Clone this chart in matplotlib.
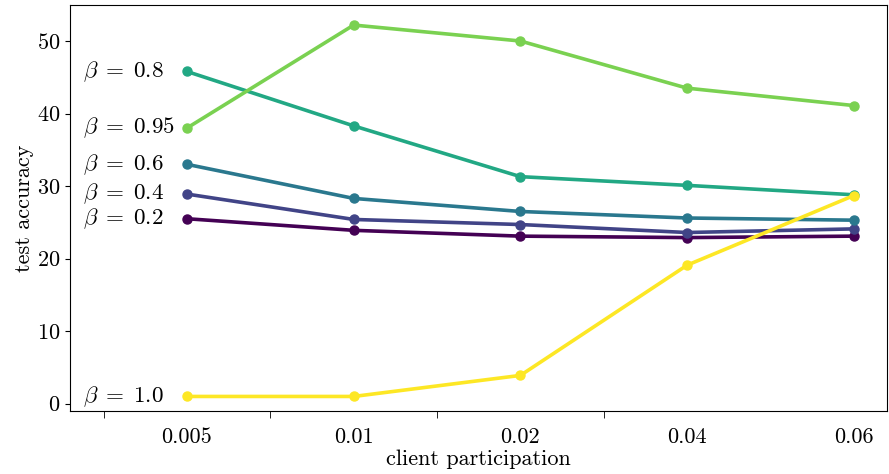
import matplotlib
matplotlib.use("Agg")
import matplotlib.pyplot as plt
import numpy as np

plt.rcParams['font.family'] = 'serif'
plt.rcParams['font.serif'] = ['cmr10']
plt.rcParams['mathtext.fontset'] = 'cm'
plt.rcParams['axes.formatter.use_mathtext'] = True

participation = ["0.005", "0.01", "0.02", "0.04", "0.06"]
betas = ["0.2", "0.4", "0.6", "0.8", "0.95", "1.0"]
acc_b02 = [25.5, 23.9, 23.1, 22.9, 23.1]
acc_b04 = [28.9, 25.4, 24.7, 23.6, 24.1]
acc_b06 = [33.0, 28.3, 26.5, 25.6, 25.3]
acc_b08 = [45.8, 38.3, 31.3, 30.1, 28.8]
acc_b095 = [38.0, 52.2, 50.0, 43.5, 41.1]
acc_b10 = [1.0, 1.0, 3.9, 19.1, 28.7]
series = [acc_b02, acc_b04, acc_b06, acc_b08, acc_b095, acc_b10]

fig, ax = plt.subplots(figsize=(8.89, 4.74), dpi=100)
colors = plt.cm.viridis(np.linspace(0, 1, len(series)))
x = np.arange(len(participation))

for beta, vals, c in zip(betas, series, colors):
    ax.plot(x, vals, color=c, lw=2.6, marker='o', ms=6.5)
    # labels start at the same x, left of the first point
    ax.annotate(r'$\beta\;=\;%s$' % beta, (x[0], vals[0]), xytext=(-74.5, 0),
                textcoords='offset points', ha='left', va='center', fontsize=16.6)

ax.set_xticks(x)
ax.set_xticklabels(participation)
ax.set_xticks(x[:-1] - 0.5, minor=True)
ax.tick_params(axis='x', which='major', length=0, pad=12)
ax.tick_params(axis='x', which='minor', length=5)
ax.tick_params(labelsize=16)
ax.set_xlim(-0.7, 4.2)
ax.set_ylim(-1, 55)
ax.set_yticks([0, 10, 20, 30, 40, 50])
ax.set_xlabel('client participation', fontsize=16, labelpad=2)
ax.set_ylabel('test accuracy', fontsize=16, labelpad=2)

fig.subplots_adjust(left=0.079, right=0.998, top=0.99, bottom=0.133)
fig.savefig('out.png', dpi=100)
